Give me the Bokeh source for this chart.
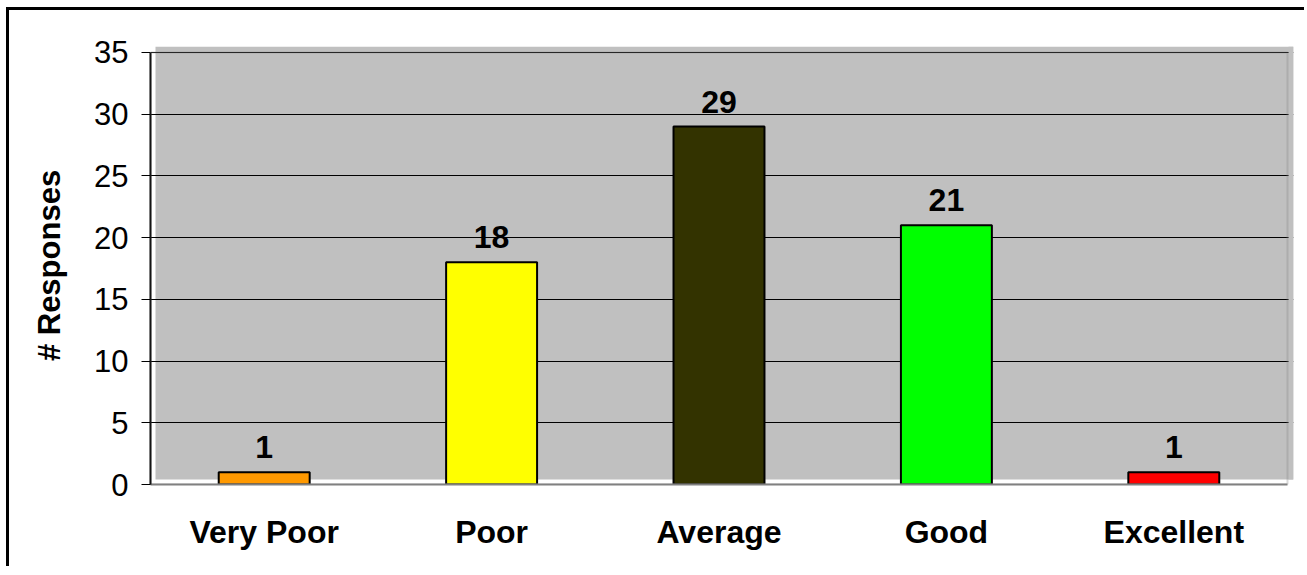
from bokeh.plotting import figure
from bokeh.models import ColumnDataSource, Range1d, BoxAnnotation, FixedTicker
from bokeh.core.properties import value
from bokeh.embed import file_html
from bokeh.resources import INLINE

categories = ["Very Poor", "Poor", "Average", "Good", "Excellent"]
responses = [1, 18, 29, 21, 1]
colors = ["#FF9900", "#FFFF00", "#333300", "#00FF00", "#FF0000"]
y_ticks = [0, 5, 10, 15, 20, 25, 30, 35]

positions = list(range(len(categories)))
src = ColumnDataSource(dict(x=positions, n=responses, color=colors,
                            label=[str(v) for v in responses]))

FONT = "Liberation Sans"
OX, OY = 9, 10          # canvas offset inside page (border + margin)
W, H = 1307 - OX, 575 - OY - 6

# frame spans page x 150..1293, y 46..484 (shadow area included)
p = figure(width=W, height=H, output_backend="svg", toolbar_location=None,
           x_range=Range1d(-0.5, 4.5 + 6 / 227.4),
           y_range=Range1d(0, 35 + 6 / 12.343),
           min_border_left=150 - OX, min_border_right=W - (1293 - OX),
           min_border_top=46 - OY, min_border_bottom=H - (484 - OY))
p.styles = {"margin-left": "9px", "margin-top": "10px",
            "box-shadow": "-3px -3px 0px 0px black"}

p.background_fill_color = "white"
p.border_fill_color = "white"
p.outline_line_color = None

def cbox(l, r, t, b, **kw):
    return BoxAnnotation(left=l - OX, right=r - OX, top=t - OY, bottom=b - OY,
                         left_units="canvas", right_units="canvas",
                         top_units="canvas", bottom_units="canvas", **kw)

# shadowed plot-area fill
p.add_layout(cbox(155, 1293, 46, 479, fill_color="#C0C0C0", fill_alpha=1,
                  line_color=None, level="image"))
# cover grid ends beyond the plot-area frame
p.add_layout(cbox(1288, 1293, 46, 479, fill_color="#C0C0C0", fill_alpha=1,
                  line_color=None, level="annotation"))
# plot-area frame (top and right edges)
p.add_layout(cbox(150, 1287, 52, 484, fill_alpha=0, line_color="#808080",
                  line_width=2, level="annotation"))

p.vbar(x="x", top="n", width=0.4, source=src, fill_color="color",
       line_color="black", line_width=2)

p.text(x="x", y="n", text="label", source=src, y_offset=-14,
       text_align="center", text_baseline="bottom",
       text_font=value(FONT), text_font_size="32px", text_font_style="bold",
       text_color="black")

p.xgrid.grid_line_color = None
p.ygrid.grid_line_color = "black"
p.ygrid.grid_line_width = 1
p.ygrid.ticker = FixedTicker(ticks=y_ticks)
p.yaxis.ticker = FixedTicker(ticks=y_ticks)
p.yaxis.bounds = (0, 35)

p.yaxis.axis_line_color = "black"
p.yaxis.axis_line_width = 2
p.yaxis.major_tick_out = 9
p.yaxis.major_tick_in = 0
p.yaxis.minor_tick_line_color = None
p.yaxis.major_tick_line_color = "black"
p.yaxis.major_label_text_font = FONT
p.yaxis.major_label_text_font_size = "31px"
p.yaxis.major_label_text_color = "black"
p.yaxis.major_label_standoff = 13
p.yaxis.axis_label = "# Responses"
p.yaxis.axis_label_text_font = FONT
p.yaxis.axis_label_text_font_size = "31px"
p.yaxis.axis_label_text_font_style = "bold"
p.yaxis.axis_label_text_color = "black"
p.yaxis.axis_label_standoff = 24

p.xaxis.ticker = FixedTicker(ticks=positions)
p.xaxis.major_label_overrides = {i: c for i, c in zip(positions, categories)}
p.xaxis.bounds = (-0.5, 4.5)
p.xaxis.axis_line_color = "#808080"
p.xaxis.axis_line_width = 2
p.xaxis.major_tick_line_color = None
p.xaxis.minor_tick_line_color = None
p.xaxis.major_tick_out = 0
p.xaxis.major_label_text_font = FONT
p.xaxis.major_label_text_font_size = "32px"
p.xaxis.major_label_text_font_style = "bold"
p.xaxis.major_label_text_color = "black"
p.xaxis.major_label_standoff = 29

html = file_html(p, INLINE)
html = html.replace("<head>", "<head><style>html,body{margin:0;overflow:hidden;}</style>", 1)
open("out.html", "w").write(html)
